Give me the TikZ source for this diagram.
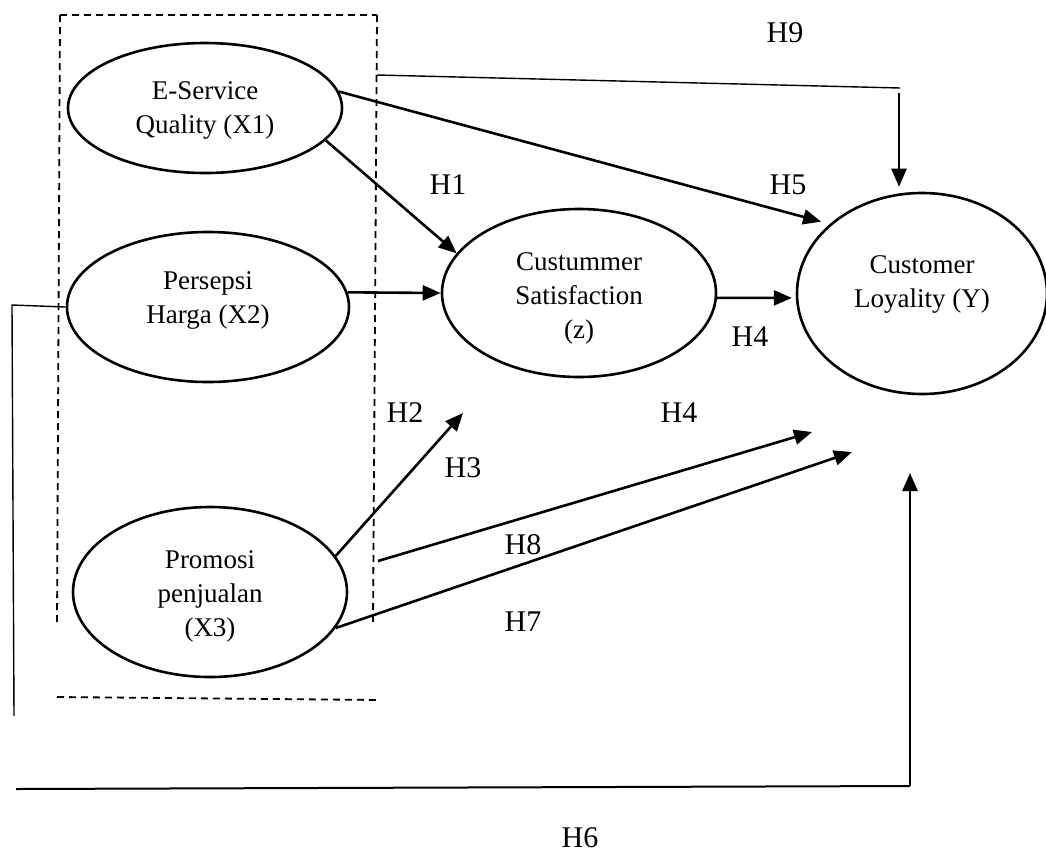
\documentclass[tikz,border=0pt]{standalone}
\usepackage{fontspec}
\setmainfont{Liberation Serif}
\usetikzlibrary{shapes.geometric,arrows.meta}
\begin{document}
\begin{tikzpicture}[x=1pt,y=-1pt,
  var/.style={draw, ellipse, line width=2.6pt, inner sep=0pt},
  vtext/.style={align=center, font=\fontsize{27}{34}\selectfont, inner sep=0pt},
  hlab/.style={font=\fontsize{30}{34}\selectfont, inner sep=0pt},
  arr/.style={line width=2.6pt, -{Triangle[length=18pt,width=15pt]}},
  thinline/.style={line width=1.4pt},
  boxline/.style={line width=1.8pt, dash pattern=on 7pt off 5pt}]
\useasboundingbox (0,0) rectangle (1046,863);

% dashed group frame
\coordinate (b1) at (60,15);
\coordinate (b2) at (377,15);
\coordinate (b3) at (57,625);
\coordinate (b4) at (373,623);
\coordinate (b5) at (57,697);
\coordinate (b6) at (380,700);
\draw[boxline] (b1) -- (b2);
\draw[boxline] (b1) -- (b3);
\draw[boxline] (b2) -- (b4);
\draw[boxline] (b5) -- (b6);

% variables
\node[var, minimum width=274pt, minimum height=130pt] (x1) at (205,108) {};
\node[var, minimum width=282pt, minimum height=150pt] (x2) at (208,307) {};
\node[var, minimum width=274pt, minimum height=170pt] (x3) at (210,592) {};
\node[var, minimum width=274pt, minimum height=168pt] (z) at (579,293) {};
\node[var, minimum width=250pt, minimum height=201pt] (y) at (922,293.5) {};

\node[vtext] (x1t) at (205,110) {E-Service\\Quality (X1)};
\node[vtext] (x2t) at (208,300) {Persepsi\\Harga (X2)};
\node[vtext] (x3t) at (210,596) {Promosi\\penjualan\\(X3)};
\node[vtext] (zt) at (579,298) {Custummer\\Satisfaction\\(z)};
\node[vtext] (yt) at (922,284) {Customer\\Loyality (Y)};

% connectors
\draw[arr] (x1.-15) -- (z.162);
\draw[arr, shorten >=9pt] (x1.7) -- (y.143);
\draw[arr] (x2.6) -- (z.west);
\draw[arr, shorten >=4pt] (z.-2) -- (y.182);

\coordinate (h23) at (463,413);
\draw[arr] (x3.16) -- (h23);
\coordinate (h8s) at (378,561);
\coordinate (h8e) at (812,432);
\draw[arr] (h8s) -- (h8e);
\coordinate (h7e) at (852,452);
\draw[arr] (x3.-16) -- (h7e);

% H9 path
\coordinate (h9s) at (377,75);
\coordinate (h9c) at (900,88);
\coordinate (h9d) at (899,93);
\draw[thinline] (h9s) -- (h9c);
\draw[arr, shorten >=5pt] (h9d) -- (h9d |- y.north);

% H6 path
\coordinate (h6a) at (12,305);
\coordinate (h6b) at (14,716);
\coordinate (h6c) at (16,789);
\coordinate (h6d) at (910,786);
\coordinate (h6e) at (910,473);
\draw[thinline] (x2.west) -- (h6a) -- (h6b);
\draw[line width=2pt] (h6c) -- (h6d);
\draw[arr] (h6d) -- (h6e);

% labels
\node[hlab] (h9) at (785,33) {H9};
\node[hlab] (h1) at (448,185) {H1};
\node[hlab] (h5) at (788,185) {H5};
\node[hlab] (h4a) at (750,337) {H4};
\node[hlab] (h2) at (405,413) {H2};
\node[hlab] (h4b) at (679,413) {H4};
\node[hlab] (h3) at (463,468) {H3};
\node[hlab] (h8) at (523,545) {H8};
\node[hlab] (h7) at (523,622) {H7};
\node[hlab] (h6) at (580,838) {H6};
\end{tikzpicture}
\end{document}
